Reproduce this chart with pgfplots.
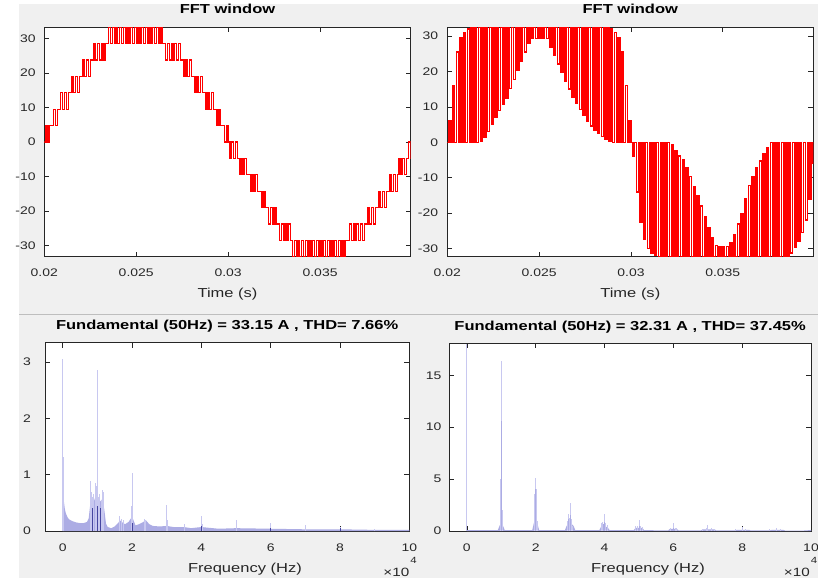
\documentclass[border=0pt]{standalone}
\usepackage{fontspec}
\setmainfont{Liberation Sans}
\usepackage{pgfplots}
\pgfplotsset{compat=1.18}

\definecolor{figgray}{RGB}{240,240,240}
\definecolor{sepgray}{RGB}{190,190,190}
\definecolor{axgray}{RGB}{38,38,38}
\definecolor{specl}{RGB}{200,200,240}
\definecolor{specm}{RGB}{172,172,228}
\definecolor{specd}{RGB}{70,70,160}

\pgfplotsset{
  mlab/.style={
    scale only axis, anchor=south west, enlargelimits=false,
    scaled x ticks=false, scaled y ticks=false,
    axis line style={axgray, line width=0.7pt},
    tick style={axgray, line width=0.7pt},
    major tick length=5pt, tick align=inside, tick pos=both,
    axis background/.style={fill=white},
    ticklabel style={font=\fontsize{11}{13}\selectfont, text=axgray, xscale=1.27, inner sep=0pt},
    xticklabel style={anchor=base, yshift=-20pt},
    yticklabel style={anchor=east},
    title style={font=\fontsize{13}{15}\selectfont\bfseries, xscale=1.27, inner sep=0pt,
      anchor=base, at={(axis description cs:0.5,1)}},
    xlabel style={font=\fontsize{13}{15}\selectfont, text=axgray, xscale=1.27, inner sep=0pt,
      anchor=base, at={(axis description cs:0.5,0)}},
  },
  wave/.style={mlab, width=366.4pt, height=229.4pt, xmin=0.02, xmax=0.03993,
    xtick={0.02,0.025,0.03,0.035}, xticklabels={0.02,0.025,0.03,0.035},
    ytick={-30,-20,-10,0,10,20,30}, yticklabels={-30,-20,-10,0,10,20,30},
    title={FFT window}, xlabel={Time (s)},
    title style={yshift=8pt}, xlabel style={yshift=-41pt}},
  spec/.style={mlab, xmin=-0.51, xmax=10, ymin=0,
    xtick={0,2,4,6,8,10}, xticklabels={0,2,4,6,8,10},
    xlabel={Frequency (Hz)},
    title style={yshift=6.7pt}, xlabel style={yshift=-41.7pt, xshift=14pt}},
}

\begin{document}
\begin{tikzpicture}
\path[use as bounding box] (0,0) rectangle (818pt,578pt);
\fill[white] (0,0) rectangle (818pt,578pt);
\fill[figgray] (19pt,0) rectangle (818pt,574pt);
\draw[sepgray, line width=1pt] (19pt,263.3pt) -- (818pt,263.3pt);

% top left: staircase current
\begin{axis}[wave, at={(44.3pt,321.3pt)}, ymin=-33.2, ymax=33.2,
  yticklabel style={xshift=-6.6pt}]
\addplot[const plot, red, line width=1.3pt] table[row sep=\\] {
t v\\
0.0200 0\\ 0.0201 4.74\\ 0.0202 0\\ 0.0203 4.74\\ 0.0204 4.74\\ 0.0205 9.49\\
0.0206 4.74\\ 0.0207 9.49\\ 0.0208 9.49\\ 0.0209 14.23\\ 0.0210 9.49\\ 0.0211 14.23\\
0.0212 9.49\\ 0.0213 14.23\\ 0.0214 14.23\\ 0.0215 18.97\\ 0.0216 14.23\\ 0.0217 18.97\\
0.0218 14.23\\ 0.0219 18.97\\ 0.0220 18.97\\ 0.0221 23.71\\ 0.0222 18.97\\ 0.0223 23.71\\
0.0224 18.97\\ 0.0225 23.71\\ 0.0226 23.71\\ 0.0227 28.46\\ 0.0228 23.71\\ 0.0229 28.46\\
0.0230 23.71\\ 0.0231 28.46\\ 0.0232 23.71\\ 0.0233 28.46\\ 0.0234 28.46\\ 0.0235 33.2\\
0.0236 28.46\\ 0.0237 33.2\\ 0.0238 28.46\\ 0.0239 33.2\\ 0.0240 28.46\\ 0.0241 33.2\\
0.0242 28.46\\ 0.0243 33.2\\ 0.0244 28.46\\ 0.0245 33.2\\ 0.0246 28.46\\ 0.0247 33.2\\
0.0248 28.46\\ 0.0249 33.2\\ 0.0250 28.46\\ 0.0251 33.2\\ 0.0252 28.46\\ 0.0253 33.2\\
0.0254 28.46\\ 0.0255 33.2\\ 0.0256 28.46\\ 0.0257 33.2\\ 0.0258 28.46\\ 0.0259 33.2\\
0.0260 28.46\\ 0.0261 33.2\\ 0.0262 28.46\\ 0.0263 33.2\\ 0.0264 28.46\\ 0.0265 28.46\\
0.0266 23.71\\ 0.0267 28.46\\ 0.0268 23.71\\ 0.0269 28.46\\ 0.0270 23.71\\ 0.0271 28.46\\
0.0272 23.71\\ 0.0273 28.46\\ 0.0274 23.71\\ 0.0275 23.71\\ 0.0276 18.97\\ 0.0277 23.71\\
0.0278 18.97\\ 0.0279 23.71\\ 0.0280 18.97\\ 0.0281 18.97\\ 0.0282 14.23\\ 0.0283 18.97\\
0.0284 14.23\\ 0.0285 18.97\\ 0.0286 14.23\\ 0.0287 14.23\\ 0.0288 9.49\\ 0.0289 14.23\\
0.0290 9.49\\ 0.0291 14.23\\ 0.0292 9.49\\ 0.0293 9.49\\ 0.0294 4.74\\ 0.0295 9.49\\
0.0296 4.74\\ 0.0297 4.74\\ 0.0298 0\\ 0.0299 4.74\\ 0.0300 0\\ 0.0301 -4.74\\
0.0302 0\\ 0.0303 -4.74\\ 0.0304 0\\ 0.0305 -4.74\\ 0.0306 -9.49\\ 0.0307 -4.74\\
0.0308 -9.49\\ 0.0309 -4.74\\ 0.0310 -9.49\\ 0.0311 -9.49\\ 0.0312 -14.23\\ 0.0313 -9.49\\
0.0314 -14.23\\ 0.0315 -9.49\\ 0.0316 -14.23\\ 0.0317 -14.23\\ 0.0318 -18.97\\ 0.0319 -14.23\\
0.0320 -18.97\\ 0.0321 -18.97\\ 0.0322 -23.71\\ 0.0323 -18.97\\ 0.0324 -23.71\\ 0.0325 -18.97\\
0.0326 -23.71\\ 0.0327 -23.71\\ 0.0328 -28.46\\ 0.0329 -23.71\\ 0.0330 -28.46\\ 0.0331 -23.71\\
0.0332 -28.46\\ 0.0333 -23.71\\ 0.0334 -28.46\\ 0.0335 -33.2\\ 0.0336 -28.46\\ 0.0337 -33.2\\
0.0338 -28.46\\ 0.0339 -33.2\\ 0.0340 -28.46\\ 0.0341 -33.2\\ 0.0342 -28.46\\ 0.0343 -33.2\\
0.0344 -28.46\\ 0.0345 -33.2\\ 0.0346 -28.46\\ 0.0347 -33.2\\ 0.0348 -28.46\\ 0.0349 -33.2\\
0.0350 -28.46\\ 0.0351 -33.2\\ 0.0352 -28.46\\ 0.0353 -33.2\\ 0.0354 -28.46\\ 0.0355 -33.2\\
0.0356 -28.46\\ 0.0357 -33.2\\ 0.0358 -28.46\\ 0.0359 -33.2\\ 0.0360 -28.46\\ 0.0361 -33.2\\
0.0362 -28.46\\ 0.0363 -33.2\\ 0.0364 -28.46\\ 0.0365 -28.46\\ 0.0366 -23.71\\ 0.0367 -28.46\\
0.0368 -23.71\\ 0.0369 -28.46\\ 0.0370 -23.71\\ 0.0371 -28.46\\ 0.0372 -23.71\\ 0.0373 -28.46\\
0.0374 -23.71\\ 0.0375 -23.71\\ 0.0376 -18.97\\ 0.0377 -23.71\\ 0.0378 -18.97\\ 0.0379 -23.71\\
0.0380 -18.97\\ 0.0381 -18.97\\ 0.0382 -14.23\\ 0.0383 -18.97\\ 0.0384 -14.23\\ 0.0385 -18.97\\
0.0386 -14.23\\ 0.0387 -14.23\\ 0.0388 -9.49\\ 0.0389 -14.23\\ 0.0390 -9.49\\ 0.0391 -14.23\\
0.0392 -9.49\\ 0.0393 -4.74\\ 0.0394 -9.49\\ 0.0395 -4.74\\ 0.0396 -9.49\\ 0.0397 -4.74\\
0.0398 0\\ 0.0399 -4.74\\ 0.03993 0\\
};
\end{axis}

% top right: two-level current
\begin{axis}[wave, at={(447.3pt,321.3pt)}, width=366pt, ymin=-32.3, ymax=32.5,
  yticklabel style={xshift=-7pt}]
\addplot[const plot, red, line width=1.5pt] table[row sep=\\] {
t v\\
0.0200 0\\ 0.0201 6\\ 0.0202 0\\ 0.0203 16\\ 0.0204 0\\ 0.0205 25.5\\
0.0206 0\\ 0.0207 29.5\\ 0.0208 0\\ 0.0209 31\\ 0.0210 0\\ 0.0211 32\\
0.0212 0\\ 0.0213 32.4\\ 0.0214 0\\ 0.0215 32.4\\ 0.0216 0\\ 0.0217 32.4\\
0.0218 0.3\\ 0.0219 32.4\\ 0.0220 1.5\\ 0.0221 32.4\\ 0.0222 3\\ 0.0223 32.4\\
0.0224 5\\ 0.0225 32.4\\ 0.0226 7.2\\ 0.0227 32.4\\ 0.0228 9\\ 0.0229 32.4\\
0.0230 10.8\\ 0.0231 32.4\\ 0.0232 12.5\\ 0.0233 32.4\\ 0.0234 15.2\\ 0.0235 32.4\\
0.0236 17.8\\ 0.0237 32.4\\ 0.0238 20.4\\ 0.0239 32.4\\ 0.0240 23\\ 0.0241 32.4\\
0.0242 25.5\\ 0.0243 32.4\\ 0.0244 28\\ 0.0245 32.4\\ 0.0246 29.3\\ 0.0247 32.4\\
0.0248 29.3\\ 0.0249 32.4\\ 0.0250 29.3\\ 0.0251 32.4\\ 0.0252 29.3\\ 0.0253 32.4\\
0.0254 29.3\\ 0.0255 32.4\\ 0.0256 27\\ 0.0257 32.4\\ 0.0258 24.5\\ 0.0259 32.4\\
0.0260 22.2\\ 0.0261 32.4\\ 0.0262 19.8\\ 0.0263 32.4\\ 0.0264 17.2\\ 0.0265 32.4\\
0.0266 15\\ 0.0267 32.4\\ 0.0268 12.8\\ 0.0269 32.4\\ 0.0270 11\\ 0.0271 32.4\\
0.0272 9.3\\ 0.0273 32.4\\ 0.0274 7.6\\ 0.0275 32.4\\ 0.0276 6\\ 0.0277 32.4\\
0.0278 4.6\\ 0.0279 32.4\\ 0.0280 3.4\\ 0.0281 32.4\\ 0.0282 2.5\\ 0.0283 32.4\\
0.0284 1.7\\ 0.0285 32.4\\ 0.0286 1\\ 0.0287 32.4\\ 0.0288 0.4\\ 0.0289 32\\
0.0290 0\\ 0.0291 31\\ 0.0292 0\\ 0.0293 29.5\\ 0.0294 0\\ 0.0295 25.5\\
0.0296 0\\ 0.0297 16\\ 0.0298 0\\ 0.0299 6\\ 0.0300 0\\ 0.0301 -4\\
0.0302 0\\ 0.0303 -14\\ 0.0304 0\\ 0.0305 -22.5\\ 0.0306 0\\ 0.0307 -27.5\\
0.0308 0\\ 0.0309 -30\\ 0.0310 0\\ 0.0311 -31.2\\ 0.0312 0\\ 0.0313 -31.8\\
0.0314 0\\ 0.0315 -32.3\\ 0.0316 0\\ 0.0317 -32.3\\ 0.0318 0\\ 0.0319 -32.3\\
0.0320 0\\ 0.0321 -32.3\\ 0.0322 -0.8\\ 0.0323 -32.3\\ 0.0324 -2.3\\ 0.0325 -32.3\\
0.0326 -3.9\\ 0.0327 -32.3\\ 0.0328 -5\\ 0.0329 -32.3\\ 0.0330 -7.3\\ 0.0331 -32.3\\
0.0332 -9.7\\ 0.0333 -32.3\\ 0.0334 -12.5\\ 0.0335 -32.3\\ 0.0336 -15\\ 0.0337 -32.3\\
0.0338 -18\\ 0.0339 -32.3\\ 0.0340 -21\\ 0.0341 -32.3\\ 0.0342 -24.2\\ 0.0343 -32.3\\
0.0344 -27\\ 0.0345 -32.3\\ 0.0346 -29.1\\ 0.0347 -32.3\\ 0.0348 -29.4\\ 0.0349 -32.3\\
0.0350 -29.4\\ 0.0351 -32.3\\ 0.0352 -29.4\\ 0.0353 -32.3\\ 0.0354 -28.4\\ 0.0355 -32.3\\
0.0356 -26\\ 0.0357 -32.3\\ 0.0358 -23\\ 0.0359 -32.3\\ 0.0360 -20.2\\ 0.0361 -32.3\\
0.0362 -16\\ 0.0363 -32.3\\ 0.0364 -12.2\\ 0.0365 -32.3\\ 0.0366 -9.6\\ 0.0367 -32.3\\
0.0368 -7.3\\ 0.0369 -32.3\\ 0.0370 -5.3\\ 0.0371 -32.3\\ 0.0372 -3.2\\ 0.0373 -32.3\\
0.0374 -1.5\\ 0.0375 -32.3\\ 0.0376 0\\ 0.0377 -32.3\\ 0.0378 0\\ 0.0379 -32.3\\
0.0380 0\\ 0.0381 -32.3\\ 0.0382 0\\ 0.0383 -32.3\\ 0.0384 0\\ 0.0385 -32.3\\
0.0386 0\\ 0.0387 -31.3\\ 0.0388 0\\ 0.0389 -29.5\\ 0.0390 0\\ 0.0391 -27.8\\
0.0392 0\\ 0.0393 -25.5\\ 0.0394 0\\ 0.0395 -22\\ 0.0396 0\\ 0.0397 -16\\
0.0398 0\\ 0.0399 -6\\ 0.03993 0\\
};
\end{axis}

% bottom left: spectrum of staircase current
\begin{axis}[spec, at={(45pt,47pt)}, width=364.3pt, height=188.3pt, ymax=3.34,
  ytick={0,1,2,3}, yticklabels={0,1,2,3}, yticklabel style={xshift=-11pt},
  title={Fundamental (50Hz) = 33.15 A , THD= 7.66\%}]
\addplot[fill=specm, draw=none] coordinates {
(0,0) (0.02,0.6) (0.04,0.5) (0.06,0.4) (0.08,0.34) (0.1,0.3) (0.15,0.23) (0.2,0.2)
(0.3,0.17) (0.4,0.15) (0.5,0.14) (0.6,0.14) (0.7,0.16) (0.75,0.22) (0.8,0.5) (0.85,0.58)
(0.9,0.52) (0.95,0.62) (1.0,0.62) (1.05,0.57) (1.1,0.52) (1.15,0.58) (1.2,0.38) (1.25,0.13)
(1.3,0.07) (1.4,0.05) (1.5,0.08) (1.6,0.14) (1.65,0.19) (1.7,0.16) (1.8,0.12) (1.9,0.16)
(2.0,0.25) (2.05,0.18) (2.1,0.1) (2.2,0.12) (2.3,0.15) (2.4,0.19) (2.5,0.12) (2.6,0.09)
(2.8,0.08) (3.0,0.09) (3.2,0.07) (3.5,0.07) (3.7,0.05) (4.0,0.07) (4.5,0.04) (5.0,0.05)
(6.0,0.04) (7.0,0.03) (8.0,0.03) (9.0,0.02) (10,0.02)} \closedcycle;
\addplot[ycomb, specl, line width=0.8pt] coordinates {
(0.005,3.05) (0.012,1.32) (0.8,0.88) (0.83,0.7) (0.87,0.6) (0.9,0.66) (0.95,0.86)
(0.98,0.8) (1.0,2.85) (1.03,0.6) (1.07,0.65) (1.12,0.55) (1.15,0.73) (1.18,0.7)
(1.63,0.27) (1.7,0.22) (1.75,0.2) (1.98,0.45) (2.0,1.03) (2.02,0.3) (2.35,0.22)
(2.4,0.2) (3.0,0.46) (3.02,0.2) (3.5,0.12) (4.0,0.26) (4.02,0.12) (5.0,0.19)
(6.0,0.15) (7.0,0.1) (8.0,0.07) (9.0,0.04)};
\addplot[ycomb, specd, line width=0.8pt] coordinates {
(0.85,0.4) (1.0,0.45) (1.1,0.4) (2.0,0.15) (4.0,0.08) (6.0,0.06) (8.0,0.05)};
\end{axis}

% bottom right: spectrum of two-level current
\begin{axis}[spec, at={(449.3pt,47pt)}, width=361.7pt, height=187.7pt, ymax=18.08,
  ytick={0,5,10,15}, yticklabels={0,5,10,15}, yticklabel style={xshift=-6pt},
  title={Fundamental (50Hz) = 32.31 A , THD= 37.45\%}]
\addplot[fill=specm, draw=none] coordinates {
(0,0.08) (0.9,0.08) (0.95,0.5) (1.0,0.8) (1.05,0.5) (1.1,0.08) (1.9,0.08) (1.95,0.8)
(2.0,1.0) (2.05,0.7) (2.1,0.08) (2.85,0.08) (2.9,0.5) (3.0,0.8) (3.1,0.5) (3.15,0.08)
(3.85,0.08) (3.9,0.4) (4.0,0.5) (4.1,0.3) (4.15,0.08) (4.85,0.08) (4.9,0.3) (5.1,0.3)
(5.15,0.08) (5.85,0.06) (5.9,0.2) (6.1,0.2) (6.15,0.06) (6.8,0.06) (6.85,0.15) (7.2,0.15)
(7.25,0.05) (7.8,0.05) (7.85,0.12) (8.2,0.12) (8.25,0.05) (8.8,0.05) (8.85,0.1) (9.2,0.1)
(9.25,0.04) (9.8,0.04) (10,0.1)} \closedcycle;
\addplot[ycomb, specl, line width=0.8pt] coordinates {
(0.0,18) (0.97,2) (0.98,5) (0.99,10.6) (1.0,16.4) (1.005,13) (1.01,3) (1.02,2) (1.03,1)
(1.96,1.5) (1.97,3.6) (1.98,4.2) (2.0,5.1) (2.01,4) (2.02,2.5) (2.04,1)
(2.93,1) (2.95,1.6) (2.97,1.3) (3.0,2.65) (3.02,1.6) (3.04,1.2) (3.07,0.5)
(3.9,0.8) (3.95,0.9) (4.0,1.6) (4.03,0.8) (4.08,0.6)
(4.9,0.5) (4.95,0.45) (5.0,1.05) (5.05,0.45) (5.1,0.35)
(5.9,0.3) (6.0,0.75) (6.05,0.3) (6.1,0.25) (6.85,0.15) (6.95,0.25) (7.0,0.55) (7.1,0.25)
(7.2,0.2) (7.8,0.15) (8.0,0.4) (8.1,0.15) (8.8,0.15) (9.0,0.3) (9.1,0.15) (9.8,0.1) (10,0.12)};
\addplot[ycomb, specm, line width=0.8pt] coordinates {
(0.99,10.6) (1.0,5) (1.98,3.5) (2.0,4) (2.95,1.2) (3.0,1.5) (3.97,0.7) (4.0,0.9)
(5.0,0.5) (6.0,0.3)};
\end{axis}

% axis exponent labels
\node[anchor=base east, font=\fontsize{12}{14}\selectfont, text=axgray, xscale=1.27, inner sep=0pt]
  at (409.5pt,1.5pt) {×10};
\node[anchor=base west, font=\fontsize{9}{10}\selectfont, text=axgray, xscale=1.27, inner sep=0pt]
  at (410pt,15pt) {4};
\node[anchor=base east, font=\fontsize{12}{14}\selectfont, text=axgray, xscale=1.27, inner sep=0pt]
  at (810pt,1.5pt) {×10};
\node[anchor=base west, font=\fontsize{9}{10}\selectfont, text=axgray, xscale=1.27, inner sep=0pt]
  at (810.5pt,15pt) {4};
\end{tikzpicture}
\end{document}
